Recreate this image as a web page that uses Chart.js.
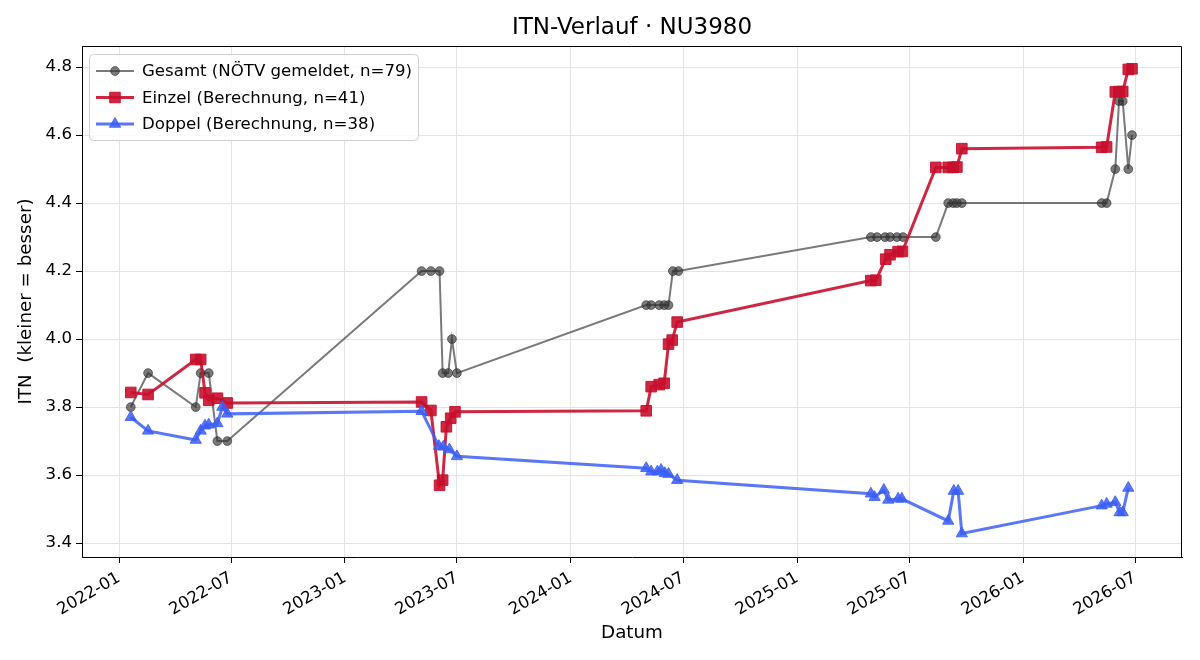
<!DOCTYPE html>
<html>
<head>
<meta charset="utf-8">
<title>ITN-Verlauf</title>
<script src="https://cdn.jsdelivr.net/npm/chart.js@4.4.1/dist/chart.umd.min.js"></script>
<style>
  html, body { margin: 0; padding: 0; background: #fff; }
  #chart { display: block; }
</style>
</head>
<body>
<canvas id="chart" width="1200" height="660"></canvas>
<script>
// Gesamt (NÖTV gemeldet)
const gesamtDaten = [
  '2022-01-20', '2022-02-17', '2022-05-05', '2022-05-13', '2022-05-26', '2022-06-09', '2022-06-25',
  '2023-05-05', '2023-05-20', '2023-06-03', '2023-06-08', '2023-06-17', '2023-06-23', '2023-07-01',
  '2024-05-02', '2024-05-10', '2024-05-23', '2024-05-31', '2024-06-07', '2024-06-14', '2024-06-23',
  '2025-04-30', '2025-05-10', '2025-05-23', '2025-05-31', '2025-06-11', '2025-06-21', '2025-08-13',
  '2025-09-02', '2025-09-10', '2025-09-16', '2025-09-24',
  '2026-05-08', '2026-05-16', '2026-05-30', '2026-06-05', '2026-06-11', '2026-06-20', '2026-06-26'
];
const gesamtITN = [
  3.8, 3.9, 3.8, 3.9, 3.9, 3.7, 3.7,
  4.2, 4.2, 4.2, 3.9, 3.9, 4.0, 3.9,
  4.1, 4.1, 4.1, 4.1, 4.1, 4.2, 4.2,
  4.3, 4.3, 4.3, 4.3, 4.3, 4.3, 4.3,
  4.4, 4.4, 4.4, 4.4,
  4.4, 4.4, 4.5, 4.7, 4.7, 4.5, 4.6
];

// Einzel (Berechnung)
const einzelDaten = [
  '2022-01-20', '2022-02-17', '2022-05-05', '2022-05-13', '2022-05-20', '2022-05-26', '2022-06-09', '2022-06-25',
  '2023-05-05', '2023-05-20', '2023-06-03', '2023-06-08', '2023-06-14', '2023-06-21', '2023-06-28',
  '2024-05-02', '2024-05-10', '2024-05-23', '2024-05-31', '2024-06-07', '2024-06-13', '2024-06-21',
  '2025-04-30', '2025-05-08', '2025-05-24', '2025-05-31', '2025-06-13', '2025-06-20', '2025-08-13',
  '2025-09-02', '2025-09-10', '2025-09-16', '2025-09-24',
  '2026-05-08', '2026-05-16', '2026-05-30', '2026-06-05', '2026-06-11', '2026-06-20', '2026-06-26'
];
const einzelITN = [
  3.843, 3.837, 3.94, 3.94, 3.842, 3.82, 3.826, 3.812,
  3.815, 3.79, 3.57, 3.585, 3.742, 3.767, 3.786,
  3.789, 3.86, 3.866, 3.87, 3.985, 3.997, 4.05,
  4.172, 4.173, 4.235, 4.248, 4.257, 4.258, 4.505,
  4.505, 4.505, 4.506, 4.56,
  4.564, 4.565, 4.727, 4.728, 4.728, 4.793, 4.795
];

// Doppel (Berechnung)
const doppelDaten = [
  '2022-01-20', '2022-02-17', '2022-05-05', '2022-05-13', '2022-05-20', '2022-05-26', '2022-06-09', '2022-06-17', '2022-06-25',
  '2023-05-05', '2023-06-02', '2023-06-09', '2023-06-19', '2023-07-01',
  '2024-05-02', '2024-05-10', '2024-05-20', '2024-05-26', '2024-06-01', '2024-06-07', '2024-06-21',
  '2025-04-30', '2025-05-06', '2025-05-21', '2025-05-28', '2025-06-13', '2025-06-19',
  '2025-09-02', '2025-09-11', '2025-09-18', '2025-09-24',
  '2026-05-08', '2026-05-16', '2026-05-30', '2026-06-06', '2026-06-11', '2026-06-20'
];
const doppelITN = [
  3.77, 3.73, 3.703, 3.73, 3.745, 3.748, 3.752, 3.80, 3.78,
  3.788, 3.685, 3.683, 3.675, 3.655,
  3.62, 3.61, 3.61, 3.615, 3.605, 3.603, 3.585,
  3.545, 3.535, 3.556, 3.527, 3.53, 3.53,
  3.465, 3.553, 3.553, 3.428,
  3.51, 3.515, 3.52, 3.49, 3.49, 3.562
];

// Achsenbeschriftung
const xTickDaten = ['2022-01-01', '2022-07-01', '2023-01-01', '2023-07-01', '2024-01-01',
                    '2024-07-01', '2025-01-01', '2025-07-01', '2026-01-01', '2026-07-01'];
const xTickLabels = ['2022-01', '2022-07', '2023-01', '2023-07', '2024-01',
                     '2024-07', '2025-01', '2025-07', '2026-01', '2026-07'];
const yTicks = [3.4, 3.6, 3.8, 4.0, 4.2, 4.4, 4.6, 4.8];
const titel = 'ITN-Verlauf · NU3980';

const FONT = 'DejaVu Sans';
const TAG = 864e5;

function punkte(daten, werte) {
  return daten.map((d, i) => ({ x: Date.parse(d), y: werte[i] }));
}

// Titel über der Achsenmitte, Rahmen oben/rechts und Legende im matplotlib-Stil
const rahmenPlugin = {
  id: 'rahmen',
  afterDraw(chart) {
    const ctx = chart.ctx;
    const a = chart.chartArea;
    ctx.save();

    ctx.fillStyle = '#000';
    ctx.font = '23px "' + FONT + '"';
    ctx.textAlign = 'center';
    ctx.textBaseline = 'middle';
    ctx.fillText(titel, (a.left + a.right) / 2, 28);

    ctx.strokeStyle = '#000';
    ctx.lineWidth = 1;
    ctx.beginPath();
    ctx.moveTo(a.left, a.top + 0.5);
    ctx.lineTo(a.right - 0.5, a.top + 0.5);
    ctx.lineTo(a.right - 0.5, a.bottom);
    ctx.stroke();

    const x0 = a.left + 7, y0 = a.top + 8, w = 329, h = 86;
    ctx.fillStyle = 'rgba(255,255,255,0.85)';
    ctx.strokeStyle = '#d0d0d0';
    ctx.beginPath();
    ctx.roundRect(x0 + 0.5, y0 + 0.5, w, h, 4);
    ctx.fill();
    ctx.stroke();

    ctx.font = '16.6px "' + FONT + '"';
    ctx.textAlign = 'left';
    chart.data.datasets.forEach((ds, i) => {
      const y = y0 + 17 + i * 26.5;
      ctx.strokeStyle = ds.borderColor;
      ctx.lineWidth = ds.borderWidth;
      ctx.beginPath();
      ctx.moveTo(x0 + 7, y);
      ctx.lineTo(x0 + 45, y);
      ctx.stroke();
      ctx.fillStyle = ds.pointBackgroundColor;
      ctx.strokeStyle = ds.pointBorderColor;
      ctx.lineWidth = 1;
      Chart.helpers.drawPoint(ctx, {
        pointStyle: ds.pointStyle,
        radius: ds.pointRadius,
        borderWidth: 1
      }, x0 + 26, y);
      ctx.fillStyle = '#000';
      ctx.fillText(ds.label, x0 + 53, y + 1);
    });
    ctx.restore();
  }
};

const grau = 'rgba(51,51,51,0.65)';
const rot = 'rgba(200,16,46,0.9)';
const blau = 'rgba(60,95,245,0.85)';

new Chart(document.getElementById('chart'), {
  type: 'line',
  data: {
    datasets: [
      {
        label: 'Gesamt (NÖTV gemeldet, n=79)',
        data: punkte(gesamtDaten, gesamtITN),
        borderColor: grau, borderWidth: 2,
        pointStyle: 'circle', pointRadius: 4.4,
        pointBackgroundColor: grau, pointBorderColor: grau, pointBorderWidth: 1,
        order: 3
      },
      {
        label: 'Einzel (Berechnung, n=41)',
        data: punkte(einzelDaten, einzelITN),
        borderColor: rot, borderWidth: 3,
        pointStyle: 'rect', pointRadius: 7.5,
        pointBackgroundColor: rot, pointBorderColor: rot, pointBorderWidth: 1,
        order: 2
      },
      {
        label: 'Doppel (Berechnung, n=38)',
        data: punkte(doppelDaten, doppelITN),
        borderColor: blau, borderWidth: 3,
        pointStyle: 'triangle', pointRadius: 6.5,
        pointBackgroundColor: blau, pointBorderColor: blau, pointBorderWidth: 1,
        order: 1
      }
    ]
  },
  options: {
    responsive: false,
    animation: false,
    devicePixelRatio: 1,
    layout: { padding: { left: 0, right: 18, top: 46, bottom: 0 } },
    elements: { line: { tension: 0, fill: false } },
    plugins: {
      legend: { display: false },
      tooltip: { enabled: false },
      title: { display: false }
    },
    scales: {
      x: {
        type: 'linear',
        min: Date.parse('2022-01-01') - 59.8 * TAG,
        max: Date.parse('2022-01-01') + 1717.8 * TAG,
        afterBuildTicks(scale) {
          scale.ticks = xTickDaten.map(d => ({ value: Date.parse(d) }));
        },
        afterFit(scale) { scale.height = 103; },
        ticks: {
          autoSkip: false,
          minRotation: 30,
          maxRotation: 30,
          padding: 5,
          color: '#000',
          font: { family: FONT, size: 16.6 },
          callback: (v, i) => xTickLabels[i]
        },
        grid: { color: '#e4e4e4', lineWidth: 1, tickColor: '#000', tickLength: 6 },
        border: { color: '#000', width: 1 },
        title: {
          display: true,
          text: 'Datum',
          color: '#000',
          font: { family: FONT, size: 18.3 },
          padding: { top: 4, bottom: 16 }
        }
      },
      y: {
        min: 3.359,
        max: 4.862,
        afterBuildTicks(scale) {
          scale.ticks = yTicks.map(v => ({ value: v }));
        },
        afterFit(scale) { scale.width = 82; },
        ticks: {
          padding: 4,
          color: '#000',
          font: { family: FONT, size: 16.6 },
          callback: v => v.toFixed(1)
        },
        grid: { color: '#e4e4e4', lineWidth: 1, tickColor: '#000', tickLength: 6 },
        border: { color: '#000', width: 1 },
        title: {
          display: true,
          text: 'ITN  (kleiner = besser)',
          color: '#000',
          font: { family: FONT, size: 18.3 },
          padding: { top: 15, bottom: 4 }
        }
      }
    }
  },
  plugins: [rahmenPlugin]
});
</script>
</body>
</html>
